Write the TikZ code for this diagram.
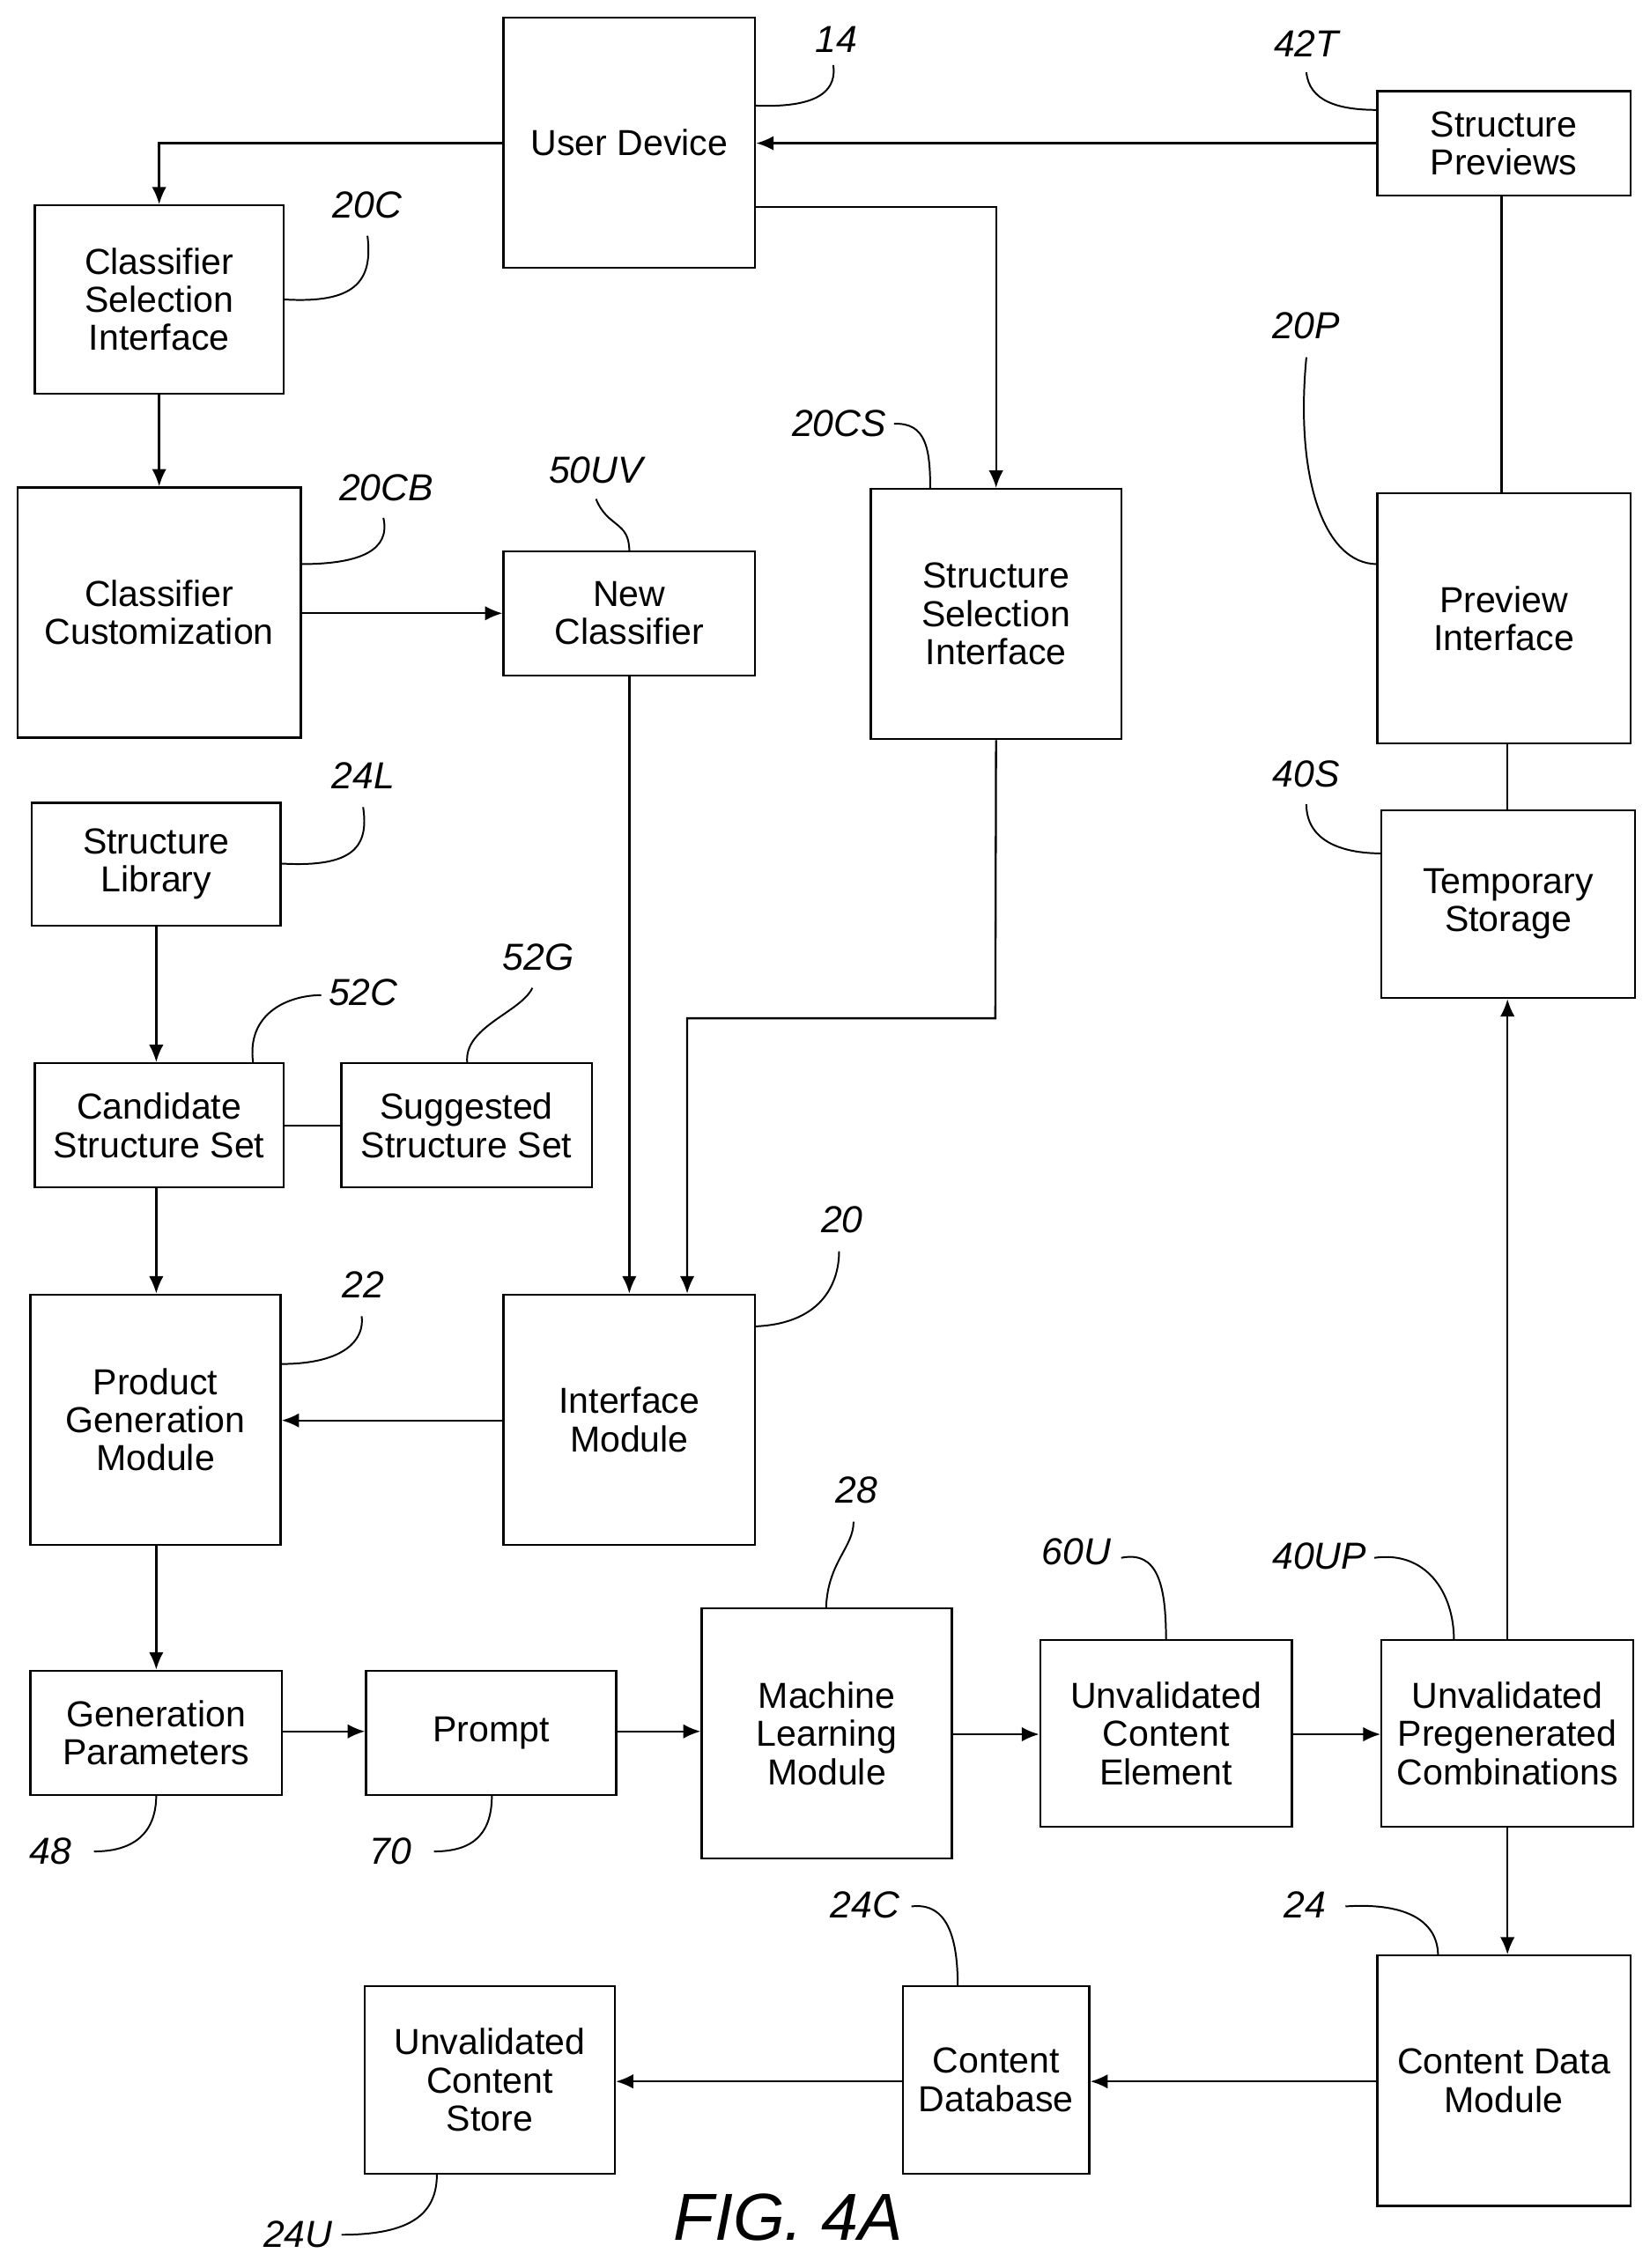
\documentclass[tikz,border=0pt]{standalone}
\usepackage{fontspec}
\setmainfont{Liberation Sans}
\usetikzlibrary{arrows.meta}
\begin{document}
\begin{tikzpicture}[x=0.5pt,y=-0.5pt,line width=0.7pt,
 box/.style={draw,inner sep=0pt,align=center,font=\fontsize{12.5}{13.2}\selectfont},
 ar/.style={-{Latex[length=6pt,width=5pt]}},
 lb/.style={font=\fontsize{13}{14}\selectfont\itshape},
 ld/.style={line width=0.6pt}]
\useasboundingbox (0,0) rectangle (1140,1568);
\newcommand\bx[6]{\node[box,minimum width={(#4-#2)*0.5pt},minimum height={(#5-#3)*0.5pt}] (#1) at ({(#2+#4)/2},{(#3+#5)/2}) {#6};}
\bx{ud}{348}{12}{522}{185}{User Device}
\bx{sp}{952}{63}{1127}{135}{Structure\\Previews}
\bx{cs}{24}{142}{196}{272}{Classifier\\Selection\\Interface}
\bx{cc}{12}{337}{208}{510}{Classifier\\Customization}
\bx{nc}{348}{381}{522}{467}{New\\Classifier}
\bx{ss}{602}{338}{775}{511}{Structure\\Selection\\Interface}
\bx{pi}{952}{341}{1127}{514}{Preview\\Interface}
\bx{ts}{955}{560}{1130}{690}{Temporary\\Storage}
\bx{sl}{22}{555}{194}{640}{Structure\\Library}
\bx{cand}{24}{735}{196}{821}{Candidate\\Structure Set}
\bx{sug}{236}{735}{409}{821}{Suggested\\Structure Set}
\bx{pg}{21}{895}{194}{1068}{Product\\Generation\\Module}
\bx{im}{348}{895}{522}{1068}{Interface\\Module}
\bx{gp}{21}{1155}{195}{1241}{Generation\\Parameters}
\bx{pr}{253}{1155}{426}{1241}{Prompt}
\bx{ml}{485}{1112}{658}{1285}{Machine\\Learning\\Module}
\bx{uce}{719}{1134}{893}{1263}{Unvalidated\\Content\\Element}
\bx{upc}{955}{1134}{1129}{1263}{Unvalidated\\Pregenerated\\Combinations}
\bx{cdm}{952}{1352}{1127}{1525}{Content Data\\Module}
\bx{cdb}{624}{1373}{753}{1503}{Content\\Database}
\bx{ucs}{252}{1373}{425}{1503}{Unvalidated\\Content\\Store}
% connectors
\draw[ar] (ud.west|-0,99) -| (cs.north);
\draw[ar] (sp.west|-0,99) -- (ud.east|-0,99);
\draw[ar] (ud.east|-0,143) -| (ss.north);
\draw (sp.south-|1038,0) -- (pi.north-|1038,0);
\draw[ar] (cs) -- (cc);
\draw[ar] (cc.east|-0,424) -- (nc.west|-0,424);
\draw[ar] (nc.south) -- (im.north-|435,0);
\coordinate (k1) at (688,704);
\draw[ar] (ss.south) -- (k1) -| (im.north-|475,0);
\draw (pi.south-|1042,0) -- (ts.north-|1042,0);
\draw[ar] (upc.north-|1042,0) -- (ts.south-|1042,0);
\draw[ar] (sl.south-|108,0) -- (cand.north-|108,0);
\draw (cand.east|-0,778) -- (sug.west|-0,778);
\draw[ar] (cand.south-|108,0) -- (pg.north-|108,0);
\draw[ar] (im.west|-0,982) -- (pg.east|-0,982);
\draw[ar] (pg.south-|108,0) -- (gp.north-|108,0);
\draw[ar] (gp.east|-0,1197) -- (pr.west|-0,1197);
\draw[ar] (pr.east|-0,1197) -- (ml.west|-0,1197);
\draw[ar] (ml.east|-0,1199) -- (uce.west|-0,1199);
\draw[ar] (uce.east|-0,1199) -- (upc.west|-0,1199);
\draw[ar] (upc.south-|1042,0) -- (cdm.north-|1042,0);
\draw[ar] (cdm.west|-0,1439) -- (cdb.east|-0,1439);
\draw[ar] (cdb.west|-0,1439) -- (ucs.east|-0,1439);
% labels
\node[lb] (l14) at (578,27) {14};
\draw[ld] (522,73) .. controls (570,75) and (578,60) .. (576,45);
\node[lb] (l42t) at (903,30) {42T};
\draw[ld] (903,50) .. controls (905,70) and (925,76) .. (952,76);
\node[lb] (l20c) at (254,142) {20C};
\draw[ld] (196,207) .. controls (245,210) and (258,195) .. (254,163);
\node[lb] (l20p) at (903,225) {20P};
\draw[ld] (903,247) .. controls (895,330) and (915,390) .. (952,390);
\node[lb] (l20cs) at (580,293) {20CS};
\draw[ld] (618,293) .. controls (640,292) and (643,310) .. (643,338);
\node[lb] (l20cb) at (267,337) {20CB};
\draw[ld] (208,390) .. controls (250,390) and (270,380) .. (265,358);
\node[lb] (l50uv) at (412,325) {50UV};
\draw[ld] (412,345) .. controls (420,365) and (435,360) .. (435,381);
\node[lb] (l24l) at (251,536) {24L};
\draw[ld] (194,597) .. controls (245,600) and (255,585) .. (251,558);
\node[lb] (l40s) at (903,535) {40S};
\draw[ld] (903,556) .. controls (903,580) and (925,590) .. (955,590);
\node[lb] (l52c) at (251,686) {52C};
\draw[ld] (175,735) .. controls (170,700) and (200,688) .. (222,688);
\node[lb] (l52g) at (372,662) {52G};
\draw[ld] (323,735) .. controls (320,710) and (360,700) .. (368,683);
\node[lb] (l20) at (582,843) {20};
\draw[ld] (522,917) .. controls (570,915) and (580,885) .. (580,865);
\node[lb] (l22) at (251,888) {22};
\draw[ld] (194,943) .. controls (240,943) and (252,925) .. (250,910);
\node[lb] (l28) at (592,1030) {28};
\draw[ld] (571,1112) .. controls (572,1080) and (590,1070) .. (590,1052);
\node[lb] (l60u) at (744,1073) {60U};
\draw[ld] (775,1077) .. controls (800,1072) and (806,1095) .. (806,1134);
\node[lb] (l40up) at (912,1076) {40UP};
\draw[ld] (950,1077) .. controls (985,1072) and (1005,1100) .. (1005,1134);
\node[lb] (l48) at (35,1280) {48};
\draw[ld] (65,1280) .. controls (95,1280) and (108,1265) .. (108,1241);
\node[lb] (l70) at (270,1280) {70};
\draw[ld] (300,1280) .. controls (330,1280) and (340,1265) .. (340,1241);
\node[lb] (l24c) at (598,1317) {24C};
\draw[ld] (630,1318) .. controls (655,1315) and (662,1340) .. (662,1373);
\node[lb] (l24) at (902,1317) {24};
\draw[ld] (930,1318) .. controls (975,1315) and (994,1330) .. (994,1352);
\node[lb] (l24u) at (206,1545) {24U};
\draw[ld] (236,1545) .. controls (285,1545) and (302,1530) .. (302,1503);
\node[font=\fontsize{23}{24}\selectfont\itshape] (fig) at (545,1533) {FIG. 4A};
\end{tikzpicture}
\end{document}
